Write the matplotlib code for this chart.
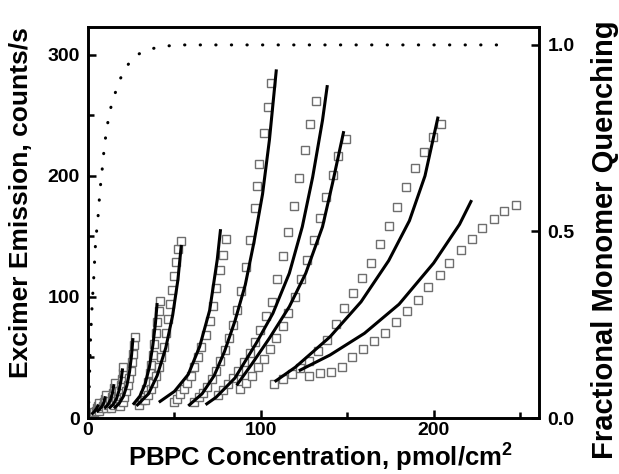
import numpy as np
import matplotlib
matplotlib.use("Agg")
import matplotlib.pyplot as plt
from matplotlib.ticker import MultipleLocator

plt.rcParams['font.family'] = ['Liberation Sans', 'DejaVu Sans']
plt.rcParams['font.weight'] = 'bold'
plt.rcParams['mathtext.fontset'] = 'custom'
plt.rcParams['mathtext.rm'] = 'Liberation Sans:bold'
plt.rcParams['mathtext.bf'] = 'Liberation Sans:bold'

# measured excimer emission (squares), one list per titration series
conc_data = [
    [2.5, 3.5, 4.4, 5.2, 5.8, 6.3],
    [6.5, 7.6, 8.6, 9.4, 10, 10.5],
    [10.5, 11.8, 12.8, 13.6, 14.4, 15, 15.5],
    [13.5, 15, 16.2, 17.2, 18, 18.8, 19.4, 20, 20.5],
    [18.5, 20, 21, 22, 23, 23.8, 24.6, 25.3, 26, 26.5, 27],
    [29.5, 31, 32.2, 33.4, 34.5, 35.6, 36.6, 37.6, 38.4, 39.2, 40, 40.8, 41.5],
    [33, 34.6, 36.2, 37.8, 39.4, 41, 42.5, 44, 45.3, 46.5, 47.6, 48.7, 49.8, 51, 52.3, 53.6],
    [49.5, 51.5, 53.5, 55.5, 57.5, 59.5, 61.5, 63.5, 65.6, 68, 70.4, 72.3, 74.2, 76.5, 78, 80],
    [61.5, 64, 66.5, 69, 71.5, 74, 76.5, 79, 81.5, 83.8, 86.3, 88.6, 91.5, 94, 96.7, 98,
     99.2, 101.7, 104.4, 106],
    [75, 78, 81, 84, 87, 90.3, 93.5, 96.7, 99.6, 103, 106.3, 109.4, 112.6, 115.9, 119,
     122.3, 125.7, 128.4, 131.9],
    [88, 91.5, 95, 98.5, 102, 105.5, 109, 112.6, 115.9, 119.8, 123.2, 127, 130.5, 134.2,
     138, 141.5, 144.9, 149.2],
    [107.6, 112.7, 117.8, 122.9, 128, 133.1, 138.2, 143.3, 148.4, 153.5, 158.6, 163.7,
     168.8, 173.9, 179, 184.1, 189.2, 194.3, 199.4, 204.5],
    [128, 134, 140.7, 147, 153, 159, 165.5, 172, 178, 184.5, 191, 196.7, 203.6, 209,
     215.7, 222, 228, 234.7, 241, 247.4],
]
em_data = [
    [3.5, 5, 6, 8, 10, 12],
    [6, 8, 10, 13, 16, 19],
    [8, 11, 14, 17, 21, 25, 29],
    [8, 11, 14, 18, 22, 27, 32, 37, 42],
    [10, 13, 17, 22, 27, 33, 39, 46, 53, 60, 67],
    [11, 15, 19, 24, 30, 37, 44, 52, 61, 70, 79, 88, 97],
    [15, 19, 24, 29, 35, 42, 50, 59, 70, 82, 94, 106, 117, 129, 140, 146],
    [13, 16, 20, 24, 29, 35, 42, 50, 59, 68.6, 80, 92.6, 107, 122, 135, 148],
    [13, 17, 21, 26, 32, 39, 47, 56, 66, 76.9, 89.3, 105.2, 125, 147.1, 173.8, 192,
     210, 235.3, 257.3, 276.6],
    [19, 23, 28, 33, 39, 46, 54, 63.1, 72.7, 84.3, 96.1, 114.6, 133.9, 153.7, 175.4,
     198.6, 221.5, 243, 262],
    [24, 29, 35, 42, 49, 57, 66, 76, 86.5, 99.8, 114.6, 130.6, 147.1, 165, 182.9,
     200.8, 216.5, 230.3],
    [28, 32, 36, 41, 47, 55, 64.5, 77.4, 90.7, 103, 115.9, 127.8, 143.5, 158.9, 174.6,
     191.1, 206.4, 220, 231.9, 242.7],
    [35, 37, 38, 42, 50, 57, 64, 70, 79, 88, 97.5, 108, 118, 128, 139, 148, 157, 164.5,
     171, 176],
]

# model fits (solid lines)
conc_fit = [
    [2, 3.5, 5, 6],
    [5, 6.5, 8, 9.2, 10],
    [9.5, 11.5, 13, 14.2, 15],
    [12, 14.5, 16.5, 18, 19.2, 20],
    [15, 18, 20.5, 22.5, 24, 25.2, 26],
    [26, 30, 33, 35.5, 37.5, 39, 40],
    [28, 35, 40, 45, 49, 52, 54],
    [41, 50, 58, 64.6, 70.4, 74.8, 76.7],
    [58, 66, 73, 79, 85, 91, 96, 101, 105, 109],
    [68, 74, 85, 97.3, 107, 116.5, 124, 130, 135.7, 138.5],
    [86, 95, 105, 116.5, 126, 135.7, 141.5, 148],
    [108, 120, 140, 158, 174, 186, 195, 202.6],
    [122, 140, 160, 180, 200, 215, 222],
]
em_fit = [
    [3, 5, 8, 11],
    [5, 7, 9.5, 13, 18],
    [8, 11, 15, 21, 28],
    [8, 11, 16, 23, 32, 41],
    [8, 12, 18, 27, 38, 52, 66],
    [11, 18, 28, 42, 60, 78, 95],
    [10, 20, 35, 58, 85, 114, 143],
    [13, 22, 36, 59, 89, 131, 156],
    [10, 20, 35, 55, 80, 110, 145, 185, 230, 288],
    [11, 17, 33, 61.7, 86.5, 119.6, 158, 199, 246, 275],
    [27, 45, 66, 92, 119.6, 158, 194, 237],
    [30, 42, 67, 96, 130, 163, 200, 249],
    [39, 52, 70, 94, 128, 160, 180],
]

# fractional monomer quenching (dotted line, right axis)
conc_q = [0, 0.5, 1.5, 2.1, 2.5, 3.1, 3.6, 4.0, 4.6, 5.6, 6.3, 6.9, 7.9, 9.5, 11,
          12.7, 15.2, 18.5, 23.3, 27.1, 35.8, 45, 53.6, 244]
quench = [0, 0.05, 0.22, 0.275, 0.315, 0.358, 0.40, 0.441, 0.485, 0.527, 0.57, 0.61,
          0.652, 0.73, 0.78, 0.824, 0.864, 0.908, 0.948, 0.971, 0.989, 0.997, 1.0, 1.0]

fig = plt.figure(figsize=(6.19, 4.74), dpi=100)
ax = fig.add_axes([0.1422, 0.1181, 0.7286, 0.8249])

for xs, ys in zip(conc_data, em_data):
    ax.plot(xs, ys, linestyle='none', marker='s', markersize=5.2, mfc='white',
            mec='#6e6e6e', mew=1.0, zorder=2)
for xs, ys in zip(conc_fit, em_fit):
    ax.plot(xs, ys, color='black', lw=2.2, solid_capstyle='butt', zorder=3)

ax.set_xlim(0, 261)
ax.set_ylim(0, 323)
ax.xaxis.set_major_locator(MultipleLocator(100))
ax.xaxis.set_minor_locator(MultipleLocator(50))
ax.yaxis.set_major_locator(MultipleLocator(100))
ax.yaxis.set_minor_locator(MultipleLocator(50))
ax.tick_params(which='both', direction='in', width=1.8, labelsize=14, top=False, right=False)
ax.tick_params(which='major', length=6, pad=6)
ax.tick_params(which='minor', length=4)
ax.tick_params(axis='x', which='major', pad=3)
for s in ax.spines.values():
    s.set_linewidth(1.9)
ax.set_xlabel(r'PBPC Concentration, pmol/cm$^\mathbf{2}$', fontsize=18.5, fontweight='bold')
ax.xaxis.set_label_coords(0.515, -0.056)
ax.set_ylabel('Excimer Emission, counts/s', fontsize=19, fontweight='bold')
ax.yaxis.set_label_coords(-0.122, 0.55)

ax2 = ax.twinx()
ax2.plot(conc_q, quench, color='black', lw=2.2, linestyle=(0, (0.1, 5)),
         dash_capstyle='round')
ax2.set_ylim(0, 1.048)
ax2.set_yticks([0.0, 0.5, 1.0])
ax2.set_yticklabels(['0.0', '0.5', '1.0'])
ax2.tick_params(direction='in', width=1.8, length=6, labelsize=14, pad=6)
for s in ax2.spines.values():
    s.set_linewidth(1.9)
ax2.set_ylabel('Fractional Monomer Quenching', fontsize=21, fontweight='bold')
ax2.yaxis.set_label_coords(1.115, 0.455)

fig.savefig('out.png', dpi=100)
